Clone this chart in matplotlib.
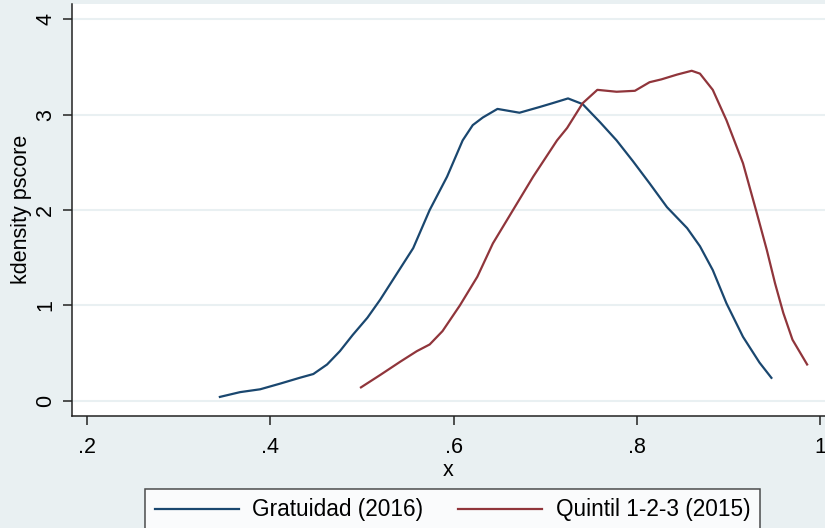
import numpy as np
import matplotlib
matplotlib.use("Agg")
import matplotlib.pyplot as plt

# curvas kdensity
x_grat = [0.345, 0.367, 0.389, 0.411, 0.432, 0.447, 0.462, 0.476, 0.49, 0.506,
          0.52, 0.534, 0.556, 0.574, 0.593, 0.61, 0.621, 0.632, 0.648, 0.672,
          0.694, 0.708, 0.725, 0.741, 0.76, 0.778, 0.796, 0.814, 0.833, 0.855,
          0.869, 0.883, 0.898, 0.916, 0.934, 0.947]
y_grat = [0.04, 0.09, 0.12, 0.18, 0.24, 0.28, 0.38, 0.52, 0.69, 0.87,
          1.06, 1.27, 1.6, 2.0, 2.35, 2.73, 2.89, 2.97, 3.06, 3.02,
          3.08, 3.12, 3.17, 3.11, 2.92, 2.73, 2.51, 2.28, 2.03, 1.81,
          1.62, 1.37, 1.02, 0.67, 0.40, 0.24]

x_quint = [0.499, 0.52, 0.542, 0.56, 0.574, 0.588, 0.607, 0.626, 0.643, 0.665,
           0.687, 0.713, 0.724, 0.741, 0.757, 0.778, 0.798, 0.814, 0.827, 0.844,
           0.86, 0.869, 0.883, 0.898, 0.916, 0.931, 0.942, 0.951, 0.96, 0.97, 0.986]
y_quint = [0.14, 0.27, 0.41, 0.52, 0.59, 0.73, 1.0, 1.30, 1.65, 2.0,
           2.35, 2.73, 2.86, 3.12, 3.26, 3.24, 3.25, 3.34, 3.37, 3.42,
           3.46, 3.43, 3.26, 2.94, 2.49, 1.97, 1.58, 1.23, 0.92, 0.64, 0.38]

labels = ['Gratuidad (2016)', 'Quintil 1-2-3 (2015)']
x_ticks = [0.2, 0.4, 0.6, 0.8, 1.0]
x_ticklabels = ['.2', '.4', '.6', '.8', '1']
y_ticks = [0, 1, 2, 3, 4]

plt.rcParams['font.family'] = ['Liberation Sans', 'DejaVu Sans']
bg = '#e9f0f2'

fig = plt.figure(figsize=(8.25, 5.28), dpi=100, facecolor=bg)
ax = fig.add_axes([0.0873, 0.2127, 0.9127, 0.7797])
ax.set_facecolor('white')

l1, = ax.plot(x_grat, y_grat, color='#1a476f', lw=1.6)
l2, = ax.plot(x_quint, y_quint, color='#90353b', lw=1.6)

ax.set_xlim(0.1836, 1.0055)
ax.set_ylim(-0.157, 4.16)
ax.set_xticks(x_ticks)
ax.set_xticklabels(x_ticklabels)
ax.set_yticks(y_ticks)
ax.yaxis.grid(True, color=bg, lw=1.5)
ax.set_axisbelow(True)

for s in ['top', 'right']:
    ax.spines[s].set_visible(False)
for s in ['left', 'bottom']:
    ax.spines[s].set_color('#222222')
    ax.spines[s].set_linewidth(1.1)

ax.tick_params(axis='both', length=6.5, width=1.1, color='#222222', labelsize=15.5)
ax.tick_params(axis='x', pad=9)
ax.tick_params(axis='y', pad=5, labelrotation=90)
plt.setp(ax.get_yticklabels(), va='center')

ax.set_xlabel('x', fontsize=15.5, labelpad=1)
ax.set_ylabel('kdensity pscore', fontsize=15.5, labelpad=2)

leg = fig.legend([l1, l2], labels, loc='upper center', bbox_to_anchor=(0.5485, 0.0739),
                 ncol=2, fontsize=16.3, frameon=True, fancybox=False,
                 handlelength=3.7, handletextpad=0.6, columnspacing=1.55,
                 borderpad=0.42, borderaxespad=0)
leg.get_frame().set_edgecolor('#222222')
leg.get_frame().set_linewidth(1.1)
leg.get_frame().set_facecolor('white')

fig.savefig('out.png', dpi=100, facecolor=bg)
